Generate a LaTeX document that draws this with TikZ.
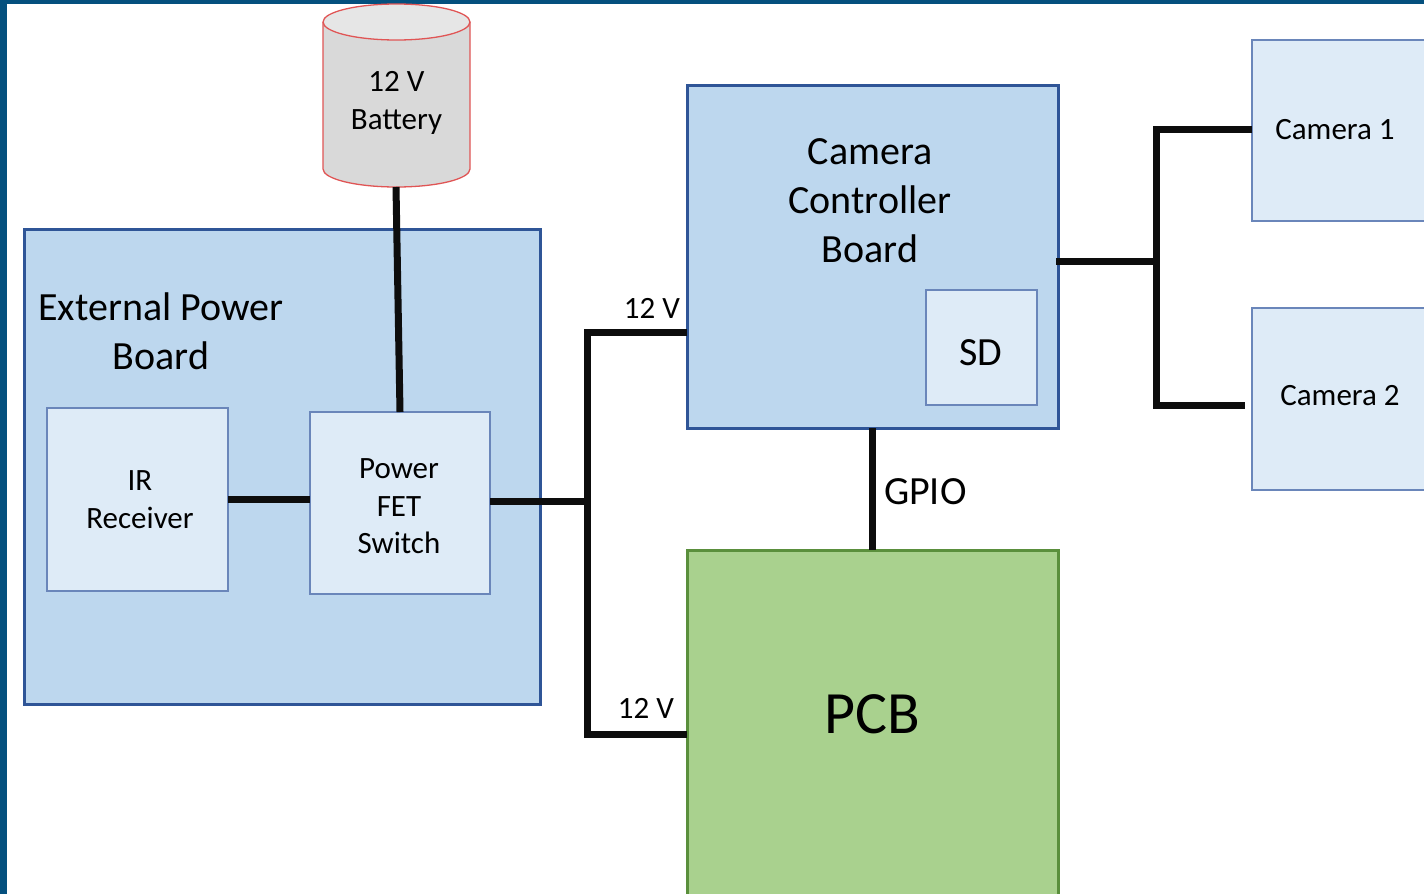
\documentclass[tikz,border=0pt]{standalone}
\usepackage{fontspec}
\setmainfont{Carlito}
\definecolor{framec}{HTML}{04507E}
\definecolor{boardfill}{HTML}{BDD7EE}
\definecolor{boardline}{HTML}{2F5597}
\definecolor{innerfill}{HTML}{DEEBF7}
\definecolor{innerline}{HTML}{6A86BA}
\definecolor{pcbfill}{HTML}{A9D18E}
\definecolor{pcbline}{HTML}{5A8F3C}
\definecolor{batbody}{HTML}{D9D9D9}
\definecolor{battop}{HTML}{E6E6E6}
\definecolor{batline}{HTML}{E05555}
\definecolor{wirec}{HTML}{0D0D0D}
\begin{document}
\begin{tikzpicture}[x=1pt,y=-1pt,
  every node/.style={inner sep=0pt, outer sep=0pt},
  board/.style={draw=boardline, fill=boardfill, line width=3pt, rectangle},
  innerbox/.style={draw=innerline, fill=innerfill, line width=1.3pt, rectangle},
  pcbbox/.style={draw=pcbline, fill=pcbfill, line width=3pt, rectangle},
  wire/.style={draw=wirec, line width=7pt},
  bigtext/.style={font=\fontsize{40}{49}\selectfont, align=center},
  smalltext/.style={font=\fontsize{31}{37.5}\selectfont, align=center},
  hugetext/.style={font=\fontsize{60}{72}\selectfont}]
\clip (0,0) rectangle (1424,894);
\fill[white] (0,0) rectangle (1424,894);
\fill[framec] (0,0) rectangle (1424,4);
\fill[framec] (0,0) rectangle (7,894);

% battery cylinder
\fill[batbody] (323,22) -- (323,169) arc[start angle=180, end angle=360, x radius=73.5pt, y radius=18pt] -- (470,22) -- cycle;
\draw[batline, line width=1.3pt] (323,22) -- (323,169) arc[start angle=180, end angle=360, x radius=73.5pt, y radius=18pt] -- (470,22);
\draw[batline, line width=1.3pt, fill=battop] (396.5,22) ellipse [x radius=73.5pt, y radius=18pt];
\node[smalltext] (bat) at (396.5,103) {12 V\\Battery};
\coordinate (batb) at (396,187);

% boards
\node[board, minimum width=516pt, minimum height=475pt, anchor=north west] (epb) at (24,229) {};
\node[bigtext] (epbt) at (161,331) {External Power\\Board};
\node[innerbox, minimum width=181pt, minimum height=183pt, anchor=north west] (ir) at (47,408) {};
\node[smalltext] (irt) at (140,499.5) {IR\\Receiver};
\node[innerbox, minimum width=180pt, minimum height=182pt, anchor=north west] (fet) at (310,412) {};
\node[smalltext] (fett) at (399,506.5) {Power\\FET\\Switch};

\node[board, minimum width=371pt, minimum height=343pt, anchor=north west] (ccb) at (687,85) {};
\node[bigtext] (ccbt) at (870,201) {Camera\\Controller\\Board};
\node[innerbox, minimum width=111pt, minimum height=115pt, anchor=north west] (sd) at (926,290) {};
\node[bigtext] (sdt) at (981,353) {SD};

\node[pcbbox, minimum width=371pt, minimum height=370pt, anchor=north west] (pcb) at (687,550) {};
\node[hugetext] (pcbt) at (872,714) {PCB};

\node[innerbox, minimum width=200pt, minimum height=181pt, anchor=north west] (cam1) at (1252,40) {};
\node[smalltext] (cam1t) at (1335,130) {Camera 1};
\node[innerbox, minimum width=200pt, minimum height=182pt, anchor=north west] (cam2) at (1252,308) {};
\node[smalltext] (cam2t) at (1340,396) {Camera 2};

% wires
\coordinate (jm) at (587,501);
\coordinate (jt) at (587,332);
\coordinate (jb) at (587,734);
\coordinate (cj) at (1156,261);
\coordinate (c2) at (1245,405);
\draw[wire] (batb) -- (fet.north);
\draw[wire] (ir.east |- 0,499) -- (fet.west |- 0,499);
\draw[wire] (fet.east |- jm) -- (jm);
\draw[wire] (ccb.west |- jt) -- (jt) -- (jb) -- (pcb.west |- jb);
\draw[wire] (ccb.south) -- (pcb.north);
\draw[wire] ([xshift=-2pt]ccb.east |- cj) -- (cj);
\draw[wire] (cam1.west |- 0,129) -- (cj |- 0,129) -- (cj |- c2) -- (c2);

% labels
\node[smalltext] (v12a) at (652,308) {12 V};
\node[smalltext] (v12b) at (646,708) {12 V};
\node[bigtext, anchor=west] (gpio) at (884,492) {GPIO};
\end{tikzpicture}
\end{document}
